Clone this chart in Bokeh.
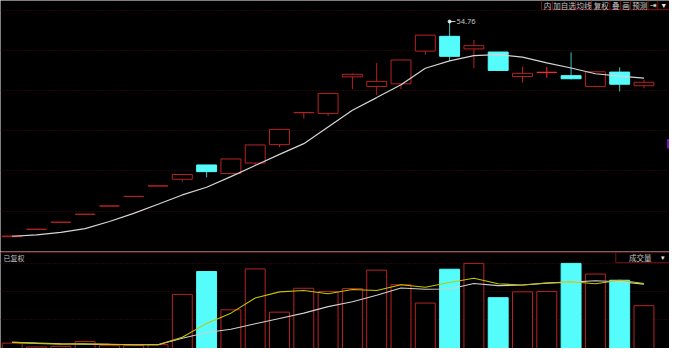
import numpy as np
from bokeh.plotting import figure
from bokeh.layouts import column
from bokeh.models import Range1d, FixedTicker
from bokeh.embed import file_html
from bokeh.resources import INLINE
from bokeh.core.properties import value

# ---------------- data ----------------
open_ = [12.72, 14.17, 15.55, 17.10, 18.72, 20.59, 22.64, 23.94, 26.74, 25.06, 27.11, 30.71, 36.95, 36.81,
         43.95, 42.08, 42.59, 48.98, 51.87, 49.41, 48.80, 44.01, 44.83, 44.19, 42.08, 44.88, 42.22]
high = [13.07, 14.17, 15.55, 17.10, 18.72, 20.59, 22.64, 24.87, 26.74, 27.91, 30.65, 33.69, 37.02, 40.72,
        44.64, 46.69, 47.25, 52.10, 54.76, 51.17, 48.80, 45.94, 45.87, 48.74, 45.07, 45.81, 43.39]
low = [12.72, 14.17, 15.55, 17.10, 18.72, 20.59, 22.64, 23.44, 24.31, 25.06, 26.61, 30.21, 35.80, 36.30,
       41.58, 40.41, 41.58, 48.29, 47.06, 45.63, 45.20, 42.83, 43.76, 43.45, 41.90, 41.10, 41.71]
close = [12.85, 14.17, 15.55, 17.10, 18.72, 20.59, 22.64, 24.87, 25.43, 27.91, 30.65, 33.69, 37.00, 40.72,
         44.45, 43.07, 47.25, 52.10, 47.96, 50.05, 45.20, 44.64, 44.83, 43.58, 44.94, 42.51, 42.89]
ma_price = [12.81, 13.09, 13.56, 14.30, 15.70, 17.29, 19.06, 20.88, 22.38, 24.46, 26.63, 28.81, 30.90, 34.16,
            37.42, 39.90, 42.40, 45.63, 47.06, 48.11, 48.29, 47.81, 46.69, 45.68, 44.56, 44.08, 43.71]
volume = [1.26, 0.46, 0.60, 1.60, 0.74, 0.74, 0.94, 11.34, 16.06, 8.14, 16.60, 7.66, 12.60, 11.94,
          12.54, 16.34, 13.34, 9.54, 16.54, 17.74, 10.66, 11.86, 11.94, 17.74, 15.54, 14.26, 9.00]
vol_ma_yellow = [1.46, 1.20, 1.06, 1.14, 1.00, 0.94, 0.94, 2.46, 5.34, 7.46, 10.60, 11.86, 12.14, 11.46,
                 12.34, 12.14, 13.34, 12.80, 13.80, 14.66, 13.54, 13.26, 13.70, 13.94, 13.54, 14.26, 13.60]
vol_ma_white = [1.40, 1.26, 1.14, 1.06, 1.00, 0.94, 0.94, 2.26, 3.46, 4.14, 5.26, 6.34, 7.46, 8.80,
                9.80, 11.14, 12.66, 12.40, 12.46, 13.60, 13.14, 13.26, 13.66, 13.86, 14.14, 13.94, 13.46]
price_grid = [57.0, 49.17, 41.34, 33.51, 25.68, 17.66]
volume_grid = [17.8, 12.0, 6.2]
toolbar_labels = ["内", "加自选", "均线", "复权", "叠", "画", "预测"]
panel_label = "已复权"
volume_label = "成交量"

# ---------------- layout helpers ----------------
REF_W, REF_H, MAIN_REF_H = 685, 364, 263
W, H = 669, 348
main_h = round(H * MAIN_REF_H / REF_H)
vol_h = H - main_h
x_lo, x_hi = -0.482, 27.05
p_top, p_bot = 58.87, 9.83
v_top, v_bot = 20.2, 0.15


def rx(px):
    return x_lo + px * (x_hi - x_lo) / REF_W


def ry_main(py):
    return p_top - py * (p_top - p_bot) / MAIN_REF_H


def ry_vol(py):
    return 20.2 - (py - MAIN_REF_H) * 20.2 / (REF_H - MAIN_REF_H)


RED = "#b82222"
BRIGHT_RED = "#ff2a2a"
CYAN = "#54fcfc"
CYAN_WICK = "#3cc4c4"
GRID = "#480b0b"
BORDER = "#741616"
TXT = "#c4c4c4"
CJK = value("Noto Sans CJK SC")

o = np.array(open_)
h = np.array(high)
l = np.array(low)
c = np.array(close)
idx = np.arange(len(o))
up = c >= o
body_top = np.maximum(o, c)
body_bot = np.minimum(o, c)
doji = (c == o) & (h > l)
line_col = [BRIGHT_RED if d else (RED if u else CYAN) for u, d in zip(up, doji)]
wick_col = [BRIGHT_RED if d else (RED if u else CYAN_WICK) for u, d in zip(up, doji)]
fill_col = ["#000000" if u else CYAN for u in up]


def base_fig(height, yr):
    f = figure(width=W, height=height, x_range=Range1d(x_lo, x_hi), y_range=yr,
               output_backend="svg", toolbar_location=None,
               x_axis_location=None, y_axis_location=None,
               background_fill_color="#000000", border_fill_color="#000000",
               min_border=0, min_border_left=0, min_border_right=0,
               min_border_top=0, min_border_bottom=0)
    f.outline_line_color = None
    f.xgrid.visible = False
    return f


# ---------------- main price panel ----------------
p = base_fig(main_h, Range1d(p_bot, p_top))
p.ygrid.ticker = FixedTicker(ticks=price_grid)
p.ygrid.grid_line_color = GRID
p.ygrid.grid_line_dash = "1 2"
p.ygrid.grid_line_width = 1

p.segment(x0=idx, y0=h, x1=idx, y1=body_top, color=wick_col, line_width=1)
p.segment(x0=idx, y0=body_bot, x1=idx, y1=l, color=wick_col, line_width=1)
p.vbar(x=idx, width=0.82, top=body_top, bottom=body_bot, fill_color=fill_col,
       line_color=line_col, line_width=1)
p.line(idx, ma_price, line_color="#d4d4d4", line_width=1.2)

imax = int(np.argmax(h))
hx = idx[imax]
hy = h[imax]
p.segment(x0=[hx], y0=[hy], x1=[hx + 6 * (x_hi - x_lo) / REF_W], y1=[hy], color="#c8c8c8", line_width=1)
p.scatter([hx], [hy], size=3, color="#e8e8e8")
p.text(x=[hx + 7 * (x_hi - x_lo) / REF_W], y=[hy], text=[f"{hy:.2f}"], text_font=value("Noto Sans"),
       text_font_size="7.5px", text_color=TXT, text_baseline="middle", text_align="left")

# toolbar at top-right
seps = [554, 565, 589, 605, 624, 635, 645, 663, 673, 685]
tb_bottom = 9.3
p.segment(x0=[rx(s) for s in seps], y0=[ry_main(0)] * len(seps), x1=[rx(s) for s in seps],
          y1=[ry_main(tb_bottom)] * len(seps), color=BORDER, line_width=1)
p.segment(x0=[rx(554)], y0=[ry_main(tb_bottom)], x1=[rx(685)], y1=[ry_main(tb_bottom)],
          color=BORDER, line_width=1)
centers = [(seps[k] + seps[k + 1]) / 2 + 0.5 for k in range(len(toolbar_labels))]
p.text(x=[rx(cx) for cx in centers], y=[ry_main(4.8)] * len(centers), text=toolbar_labels,
       text_font=CJK, text_font_size="7.5px", text_color=TXT, text_align="center", text_baseline="middle")
p.text(x=[rx(668.5), rx(679)], y=[ry_main(4.8)] * 2, text=["⇥", "▾"], text_font=value("DejaVu Sans"),
       text_font_size="8px", text_color="#e8e8e8", text_align="center", text_baseline="middle")
# small marker at right edge
p.quad(left=[rx(682.5)], right=[rx(686)], top=[ry_main(145)], bottom=[ry_main(155)],
       fill_color="#7a10c8", line_color=None)

# ---------------- volume panel ----------------
pv = base_fig(vol_h, Range1d(v_bot, v_top))
pv.ygrid.ticker = FixedTicker(ticks=volume_grid)
pv.ygrid.grid_line_color = GRID
pv.ygrid.grid_line_dash = "1 2"
pv.ygrid.grid_line_width = 1

pv.vbar(x=idx, width=0.82, top=volume, bottom=0, fill_color=fill_col,
        line_color=[RED if u else CYAN for u in up], line_width=1)
pv.line(idx, vol_ma_white, line_color="#cfcfcf", line_width=1.1)
pv.line(idx, vol_ma_yellow, line_color="#c8c400", line_width=1.1)

# header line and labels
pv.segment(x0=[rx(0)], y0=[ry_vol(263.6)], x1=[rx(685)], y1=[ry_vol(263.6)], color=BORDER, line_width=1.3)
pv.text(x=[rx(3)], y=[ry_vol(269.5)], text=[panel_label], text_font=CJK, text_font_size="7px",
        text_color=TXT, text_align="left", text_baseline="middle")
pv.segment(x0=[rx(630), rx(630)], y0=[ry_vol(263.6), ry_vol(274.6)], x1=[rx(630), rx(686)],
           y1=[ry_vol(274.6), ry_vol(274.6)], color=BORDER, line_width=1)
pv.text(x=[rx(655)], y=[ry_vol(269.5)], text=[volume_label], text_font=CJK, text_font_size="7.5px",
        text_color=TXT, text_align="center", text_baseline="middle")
pv.text(x=[rx(678)], y=[ry_vol(269.5)], text=["▾"], text_font=value("DejaVu Sans"),
        text_font_size="7px", text_color="#e8e8e8", text_align="center", text_baseline="middle")

layout = column(p, pv, spacing=0)
open("out.html", "w").write(file_html(layout, INLINE))
